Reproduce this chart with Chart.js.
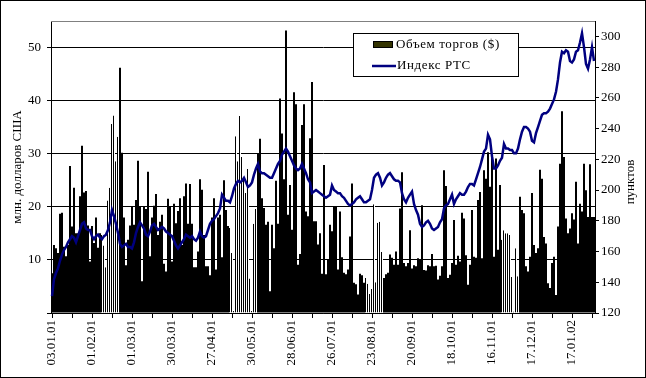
<!DOCTYPE html>
<html lang="ru">
<head>
<meta charset="UTF-8">
<title>Объем торгов и индекс РТС</title>
<script src="https://cdn.jsdelivr.net/npm/chart.js"></script>
<style>
  html, body { margin: 0; padding: 0; background: #fff; }
  .wrap { position: relative; width: 646px; height: 378px; }
</style>
</head>
<body>
<div class="wrap"><canvas id="rtsChart" width="646" height="378"></canvas></div>
<script>
// подписи оси X (каждые 20 торговых дней)
const tickLabels = ['03.01.01', '01.02.01', '01.03.01', '30.03.01', '27.04.01', '30.05.01', '28.06.01',
                    '26.07.01', '23.08.01', '20.09.01', '18.10.01', '16.11.01', '17.12.01', '17.01.02'];

// объем торгов, млн. долларов США
const volume = [
  7.5, 12.8, 12.2, 11.3, 18.7, 18.9, 12.5, 10.7, 12.8, 27.7,
  16.3, 23.6, 15, 15, 22, 31.5, 22.7, 23, 16.5, 9.7,
  16.4, 13.2, 18, 12.3, 15, 14.7, 12.7, 8.6, 21.2, 23.6,
  35.6, 37.2, 28.6, 33.2, 46.2, 30.2, 18, 9, 13.8, 16.5,
  20, 16.6, 21.3, 28.7, 20, 6, 20, 19.6, 26.6, 10.7,
  18, 20.2, 22.4, 14.7, 17.2, 18.5, 9.3, 7.8, 21.5, 20,
  9.7, 20.6, 16.9, 19.2, 21.6, 12.8, 22, 24.4, 16.8, 24.3,
  16.8, 8.6, 8.6, 11.6, 25.2, 23.2, 14.7, 8.8, 8.8, 7.1,
  18, 21.6, 8.2, 18, 18.5, 10.5, 25, 19.4, 16.4, 16,
  11.3, 0.4, 33.3, 28.6, 37.1, 29.4, 25.2, 22.6, 27.1, 6.5,
  0.4, 16.8, 19.6, 30, 32.8, 21.6, 19.8, 16.6, 17.2, 4.1,
  16.6, 12.2, 24.9, 16.8, 40.4, 33.8, 25.2, 53.2, 18.5, 24.1,
  15.7, 41.6, 39.3, 9.1, 11.1, 35.4, 39.3, 19.1, 18.2, 32.9,
  43.5, 17.3, 17.3, 12.9, 15, 7.4, 27.9, 7.3, 10, 16.6,
  15.4, 20, 20, 8.2, 19.1, 10.5, 7.6, 7.3, 8.2, 14.4,
  24.4, 5.7, 5.4, 3.5, 7.4, 7.1, 5.7, 6.6, 5.5, 3.6,
  4.5, 20.5, 5.8, 17, 17.2, 11.5, 6.6, 7.3, 7.6, 11,
  10.4, 9.1, 11.6, 9.1, 19.7, 26.5, 9.4, 8.8, 9.4, 15.6,
  8.4, 9, 8.8, 10.3, 10, 20.3, 8.1, 8, 9, 8.8,
  11.1, 8.8, 8.9, 6.3, 7, 8.8, 26.9, 23.9, 6.6, 7.2,
  9.4, 17.5, 9.1, 10.8, 9.7, 18.9, 17.8, 10.9, 5.3, 9.1,
  19.4, 10.6, 10.4, 21.3, 22.8, 10.3, 26.9, 25.3, 30.3, 23.8,
  29.9, 10.6, 29.1, 11.9, 24.1, 13.8, 15.6, 15, 15, 14.7,
  6.8, 0.3, 12.2, 6.9, 21.9, 19.4, 18.8, 8.8, 7.8, 10.6,
  22.6, 12.8, 11.3, 12.2, 27, 25.3, 14.3, 13.1, 5.6, 4.7,
  9.4, 10.6, 3.4, 16.3, 28.1, 38, 29.4, 17.8, 15, 15.9,
  18.8, 17.6, 24.7, 13.1, 20.6, 19.1, 28.1, 23.1, 18.1, 28,
  18.1, 18.1
];

// индекс РТС, пунктов
const rtsIndex = [
  131, 142, 146, 149, 154, 158, 161, 163, 166, 168,
  170, 169, 166, 170, 174, 178, 179, 175, 174, 174,
  170, 168, 170, 171, 169, 168, 170, 171, 174, 179,
  187, 183, 178, 172, 165, 163, 164, 165, 163, 163,
  162, 166, 172, 176, 179, 177, 175, 171, 170, 173,
  177, 178, 176, 174, 175, 176, 175, 173, 172, 171,
  170, 167, 164, 162, 164, 166, 168, 171, 170, 169,
  170, 168, 167, 169, 173, 170, 169, 170, 174, 178,
  180, 181, 183, 185, 188, 197, 195, 193, 193, 192,
  196, 201, 204, 206, 205, 206, 208, 205, 202, 203,
  205, 210, 214, 217, 212, 211, 211, 210, 209, 208,
  208, 211, 214, 217, 219, 223, 225, 227, 225, 222,
  219, 216, 214, 213, 214, 217, 214, 211, 207, 205,
  198, 199, 200, 199, 198, 197, 196, 195, 196, 197,
  203, 200, 199, 198, 198, 196, 195, 193, 191, 190,
  191, 192, 194, 195, 196, 194, 192, 192, 193, 194,
  200, 208, 210, 211, 208, 203, 205, 208, 210, 211,
  209, 207, 206, 206, 205, 198, 194, 192, 195, 197,
  199, 191, 187, 184, 178, 176, 177, 179, 180, 178,
  175, 174, 175, 176, 179, 181, 188, 190, 191, 194,
  197, 191, 194, 196, 198, 197, 197, 199, 202, 204,
  204, 203, 207, 211, 215, 220, 225, 227, 236, 233,
  222, 214, 214, 216, 219, 221, 230, 227, 227, 226,
  226, 224, 224, 227, 233, 238, 241, 241, 240, 238,
  232, 231, 237, 241, 245, 249, 250, 250, 251, 253,
  256, 259, 264, 272, 283, 290, 289, 291, 290, 284,
  283, 285, 290, 291, 296, 302, 293, 282, 279, 285,
  293, 284
];

const days = volume.map((v, i) => i);

// участки, где столбики в оригинале нарисованы тонкими линиями
const thinRanges = [[25, 33], [89, 102], [157, 165], [225, 233]];
function isThin(i) {
  return thinRanges.some(r => i >= r[0] && i <= r[1]);
}

const FONT = '"Liberation Serif", "Times New Roman", serif';
Chart.defaults.font.family = FONT;
Chart.defaults.font.size = 13;
Chart.defaults.color = '#000';

const decor = {
  id: 'decor',
  beforeDraw(chart) {
    const ctx = chart.ctx;
    ctx.save();
    ctx.fillStyle = '#fff';
    ctx.fillRect(0, 0, chart.width, chart.height);
    ctx.restore();
  },
  afterDraw(chart) {
    const ctx = chart.ctx;
    const a = chart.chartArea;
    ctx.save();
    // верхняя граница области построения
    ctx.strokeStyle = '#808080';
    ctx.lineWidth = 1;
    ctx.beginPath();
    ctx.moveTo(a.left, a.top + 0.5);
    ctx.lineTo(a.right, a.top + 0.5);
    ctx.stroke();

    // названия осей
    ctx.fillStyle = '#000';
    ctx.font = '13px ' + FONT;
    ctx.textAlign = 'center';
    ctx.textBaseline = 'middle';
    ctx.save();
    ctx.translate(18, (a.top + a.bottom) / 2);
    ctx.rotate(-Math.PI / 2);
    ctx.fillText('млн. долларов США', 0, 0);
    ctx.restore();
    ctx.save();
    ctx.translate(631, 182);
    ctx.rotate(-Math.PI / 2);
    ctx.fillText('пунктов', 0, 0);
    ctx.restore();

    // легенда
    ctx.fillStyle = '#fff';
    ctx.fillRect(354, 34, 164, 42);
    ctx.strokeStyle = '#000';
    ctx.strokeRect(353.5, 33.5, 165, 43);
    ctx.fillStyle = '#333300';
    ctx.fillRect(373, 41, 20, 7);
    ctx.strokeRect(373.5, 41.5, 19, 6);
    ctx.strokeStyle = '#000080';
    ctx.lineWidth = 2.5;
    ctx.beginPath();
    ctx.moveTo(372, 66);
    ctx.lineTo(396, 66);
    ctx.stroke();
    ctx.fillStyle = '#000';
    ctx.textAlign = 'left';
    ctx.letterSpacing = '0.6px';
    ctx.fillText('Объем торгов ($)', 396, 45);
    ctx.fillText('Индекс РТС', 397, 66);
    ctx.letterSpacing = '0px';

    // рамка диаграммы
    ctx.strokeStyle = '#000';
    ctx.lineWidth = 1;
    ctx.strokeRect(0.5, 0.5, chart.width - 1, chart.height - 1);
    ctx.restore();
  }
};

new Chart(document.getElementById('rtsChart'), {
  data: {
    labels: days,
    datasets: [
      {
        type: 'line',
        label: 'Индекс РТС',
        data: rtsIndex,
        yAxisID: 'y2',
        borderColor: '#000080',
        borderWidth: 2.5,
        pointRadius: 0,
        tension: 0,
        order: 0
      },
      {
        type: 'bar',
        label: 'Объем торгов ($)',
        data: volume,
        yAxisID: 'y',
        backgroundColor: '#000',
        borderColor: '#fff',
        borderWidth: ctx => isThin(ctx.dataIndex) ? { top: 0, right: 1, bottom: 0, left: 0 } : 0,
        borderSkipped: false,
        inflateAmount: 0,
        barPercentage: 1,
        categoryPercentage: 1,
        order: 1
      }
    ]
  },
  options: {
    responsive: false,
    animation: false,
    events: [],
    layout: { padding: { top: 21, left: 0, right: 0, bottom: 0 } },
    plugins: {
      legend: { display: false },
      tooltip: { enabled: false }
    },
    scales: {
      x: {
        type: 'category',
        offset: true,
        grid: { display: true, drawOnChartArea: false, offset: false, tickLength: 5, color: '#000' },
        border: { display: true, color: '#000' },
        ticks: {
          autoSkip: false,
          maxRotation: 90,
          minRotation: 90,
          padding: 2,
          callback: function (value) {
            return value % 20 === 0 ? tickLabels[value / 20] : '';
          }
        },
        afterBuildTicks: scale => {
          scale.ticks = scale.ticks.filter(t => t.value % 10 === 0);
        },
        afterFit: scale => { scale.height = 65; }
      },
      y: {
        type: 'linear',
        position: 'left',
        min: 0,
        max: 55,
        grid: { color: '#000', tickLength: 4 },
        border: { display: true, color: '#000' },
        ticks: {
          stepSize: 10,
          includeBounds: false,
          padding: 6,
          callback: v => (v > 0 && v % 10 === 0) ? v : ''
        },
        afterFit: scale => { scale.width = 51; }
      },
      y2: {
        type: 'linear',
        position: 'right',
        min: 120,
        max: 310,
        grid: { drawOnChartArea: false, color: '#000', tickLength: 4 },
        border: { display: true, color: '#000' },
        ticks: { stepSize: 10, padding: 2 },
        afterFit: scale => { scale.width = 51; }
      }
    }
  },
  plugins: [decor]
});
</script>
</body>
</html>
